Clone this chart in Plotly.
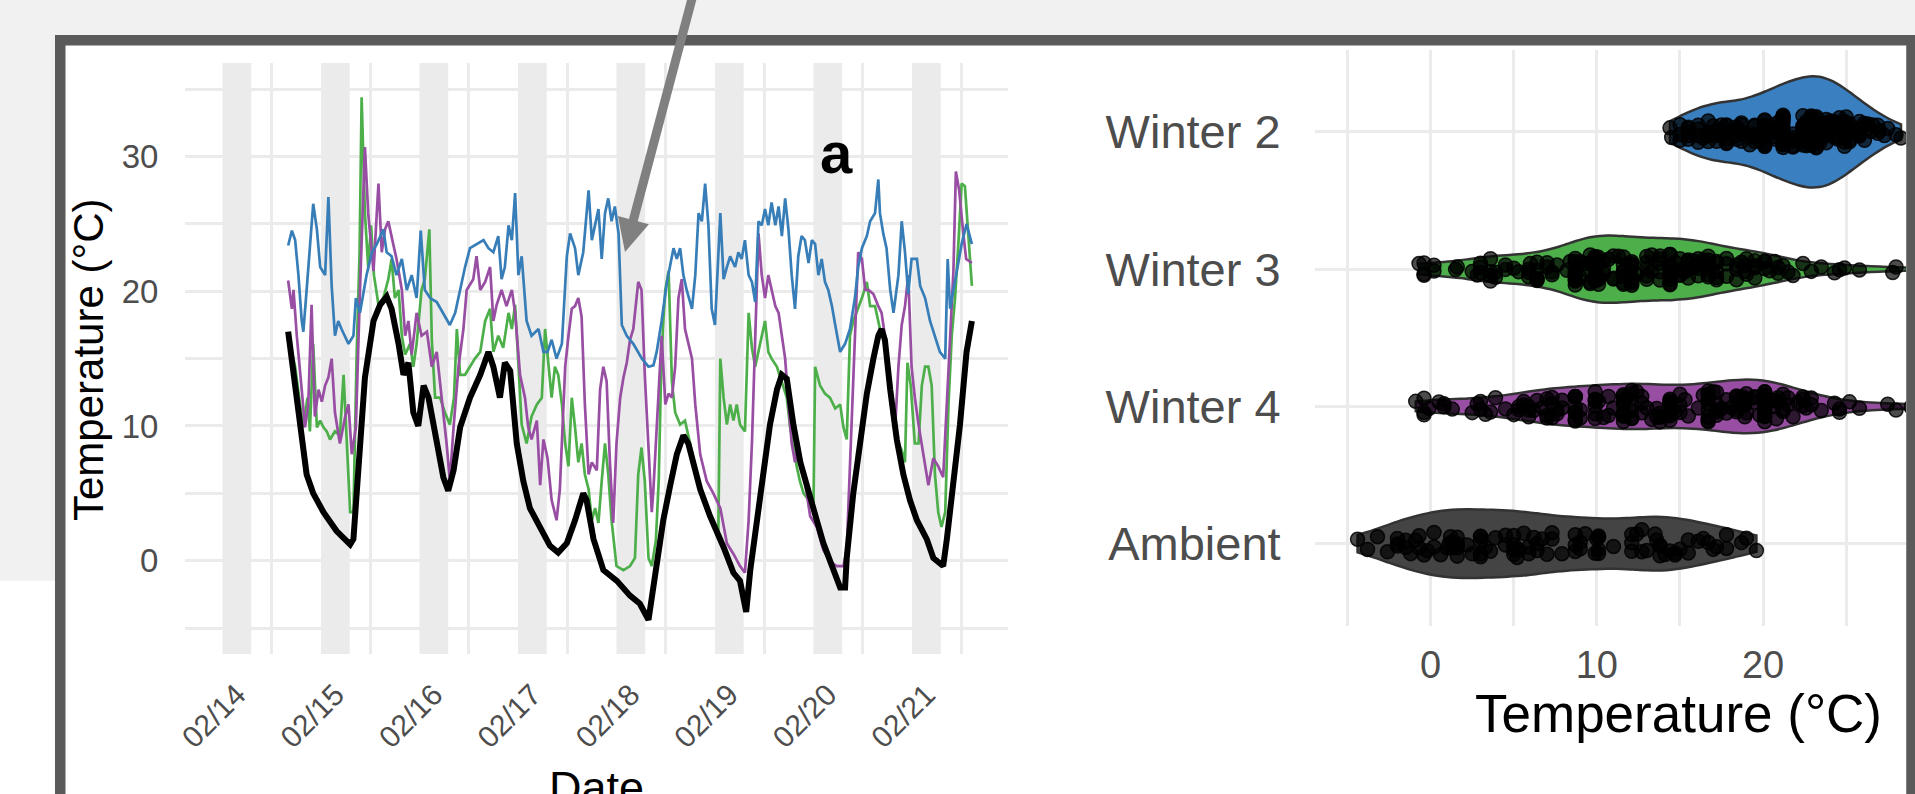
import pandas as pd
import plotly.graph_objects as go

# ---------------- data (hours after 2021-02-14 00:00, temperature in deg C) ----------------
BASE = "2021-02-14"

amb_h = [16.0, 18.9, 20.5, 22.1, 24.6, 27.8, 31.1, 31.9, 33.1, 34.7, 36.8, 38.4, 40.0, 41.2, 42.9, 44.1,
         45.3, 46.5, 47.7, 49.0, 50.2, 52.2, 53.8, 55.0, 56.3, 57.9, 60.3, 62.8, 64.8, 66.0, 67.6, 68.8,
         70.1, 71.7, 73.3, 74.9, 77.4, 79.8, 81.8, 83.9, 85.9, 87.9, 88.7, 90.4, 92.8, 96.1, 99.3, 101.7,
         103.8, 105.0, 107.4, 109.1, 110.7, 112.3, 113.5, 116.4, 118.8, 122.1, 124.5, 126.1, 127.6, 128.6,
         130.2, 131.8, 133.4, 135.1, 136.3, 137.5, 139.1, 140.8, 142.8, 144.8, 146.4, 148.1, 149.3, 150.5,
         151.7, 152.1, 153.7, 155.3, 157.0, 158.6, 159.8, 160.6, 161.4, 162.7, 164.3, 165.9, 167.5, 169.2,
         171.6, 173.2, 175.6, 176.5, 178.1, 179.7, 181.3, 182.6]
amb_t = [17.0, 10.1, 6.4, 5.0, 3.6, 2.2, 1.2, 1.6, 7.3, 13.6, 17.8, 19.0, 19.6, 18.7, 16.1, 13.8,
         14.7, 11.0, 10.0, 13.0, 12.1, 9.0, 6.2, 5.2, 6.7, 9.9, 12.1, 13.8, 15.5, 14.4, 12.1, 14.7,
         14.1, 8.7, 5.9, 3.9, 2.5, 1.1, 0.6, 1.3, 3.0, 5.0, 4.5, 1.6, -0.7, -1.5, -2.6, -3.2,
         -4.4, -2.0, 3.0, 5.6, 7.9, 9.3, 8.7, 5.3, 3.3, 1.0, -0.9, -1.5, -3.8, -0.7,
         3.0, 7.0, 10.1, 12.7, 13.8, 13.5, 10.1, 7.3, 5.0, 3.0, 1.3, -0.2, -1.2, -2.0,
         -2.0, 0.2, 5.0, 8.7, 12.4, 15.0, 16.7, 17.2, 16.4, 12.7, 9.0, 6.4, 4.5, 3.0,
         1.6, 0.2, -0.4, 1.6, 5.9, 10.1, 15.5, 17.8]

w2_h = [16.0, 16.9, 17.7, 18.5, 19.3, 19.7, 20.5, 21.3, 22.1, 23.0, 23.8, 25.0, 25.8, 26.6, 27.4, 28.2,
        29.0, 30.7, 31.9, 32.5, 33.5, 35.1, 36.4, 37.6, 39.2, 40.0, 41.2, 42.4, 43.7, 44.9, 46.1, 47.3,
        48.3, 49.3, 50.6, 52.2, 53.8, 55.4, 56.7, 57.9, 59.1, 60.3, 61.9, 63.6, 64.8, 66.0, 67.2, 68.0,
        68.8, 69.7, 70.5, 71.3, 72.1, 72.9, 74.1, 75.3, 77.0, 78.2, 79.2, 80.2, 81.4, 82.7, 83.9, 84.7,
        85.9, 86.7, 87.9, 89.2, 90.0, 90.8, 91.6, 92.4, 93.2, 94.0, 94.8, 95.6, 96.5, 97.3, 98.5, 100.1,
        102.2, 103.8, 105.0, 105.8, 107.0, 108.3, 109.9, 110.7, 111.5, 112.3, 113.1, 114.4, 115.2, 116.0,
        116.8, 117.6, 118.4, 119.2, 120.0, 121.3, 122.1, 122.9, 123.7, 124.9, 125.7, 126.5, 127.3, 128.2,
        129.0, 129.8, 130.6, 131.4, 132.2, 133.0, 133.8, 134.7, 135.5, 136.3, 137.1, 137.9, 138.7, 139.5,
        140.3, 141.1, 141.9, 142.8, 143.6, 144.4, 145.2, 146.0, 146.8, 147.6, 148.5, 149.3, 150.5, 151.7,
        152.9, 154.1, 154.9, 155.8, 157.0, 157.8, 159.0, 159.8, 160.2, 161.0, 161.8, 162.7, 163.5, 164.7,
        165.5, 166.3, 167.1, 167.9, 169.2, 170.0, 171.2, 172.4, 173.6, 174.8, 176.1, 176.7, 177.3, 178.1,
        178.9, 180.1, 181.3, 182.6]
w2_t = [23.4, 24.5, 23.8, 21.2, 17.8, 17.0, 20.1, 23.5, 26.5, 24.6, 21.8, 21.2, 27.0, 20.4, 16.7, 17.8,
        17.2, 16.1, 16.7, 19.5, 18.4, 21.2, 22.9, 23.5, 24.6, 22.9, 22.6, 21.2, 22.4, 20.1, 21.2, 19.5,
        24.5, 20.1, 19.5, 19.2, 18.4, 17.5, 18.4, 20.1, 21.8, 23.2, 23.5, 23.8, 23.2, 22.9, 24.1, 20.9,
        21.8, 24.9, 23.8, 27.3, 21.2, 22.6, 17.8, 16.7, 17.2, 15.5, 15.5, 16.4, 15.0, 16.1, 22.6, 24.3,
        23.2, 21.2, 22.9, 27.5, 23.8, 24.9, 26.1, 22.4, 25.8, 26.9, 25.2, 26.3, 24.3, 17.5, 16.7, 16.1,
        15.0, 14.4, 14.5, 15.5, 17.8, 20.7, 23.2, 22.4, 23.2, 21.2, 20.1, 18.7, 21.2, 25.8,
        25.2, 28.0, 24.9, 18.7, 17.5, 25.8, 20.9, 21.8, 22.6, 21.8, 22.9, 22.4, 23.8, 21.2,
        20.7, 19.2, 25.2, 24.9, 26.1, 24.9, 26.6, 24.9, 26.3, 24.1, 26.9, 24.6, 21.2, 18.7,
        22.6, 24.1, 23.8, 22.1, 23.8, 23.5, 21.2, 22.4, 20.7, 20.1, 18.9, 17.5, 15.5, 16.1,
        17.2, 19.5, 21.8, 23.2, 24.1, 25.2, 25.8, 28.3, 25.8, 24.3, 23.2, 20.1, 18.4, 21.2,
        25.2, 22.9, 19.8, 22.4, 22.4, 20.4, 19.5, 17.8, 16.7, 15.5, 15.0, 22.4, 18.7, 20.1,
        21.2, 23.5, 25.0, 23.5]

w3_h = [16.0, 17.7, 18.9, 19.7, 20.7, 21.3, 22.1, 23.0, 23.8, 24.6, 25.4, 26.2, 27.4, 28.6, 29.5, 30.4,
        31.1, 31.9, 32.7, 33.4, 33.9, 34.7, 35.5, 36.2, 36.9, 38.0, 39.2, 40.4, 41.2, 42.0, 42.9, 43.7,
        44.5, 45.7, 46.5, 47.3, 48.5, 49.3, 50.4, 51.0, 51.8, 53.0, 54.2, 55.4, 56.4, 57.1, 57.9, 59.1,
        60.3, 61.5, 62.8, 64.0, 65.2, 66.0, 67.2, 68.4, 69.7, 70.5, 71.3, 72.1, 72.9, 74.1, 75.3, 76.6,
        77.8, 78.6, 79.4, 80.2, 81.0, 81.8, 82.7, 83.5, 84.3, 85.1, 85.9, 86.7, 87.5, 88.3, 89.2, 90.0,
        90.8, 91.6, 92.4, 93.2, 94.0, 94.8, 96.0, 97.7, 99.3, 100.5, 101.3, 102.1, 102.9, 103.8, 104.6,
        105.6, 106.3, 106.8, 107.3, 107.9, 108.7, 109.5, 110.3, 111.5, 112.7, 113.9, 115.6, 117.2, 119.2,
        120.8, 121.3, 122.1, 122.9, 123.7, 124.5, 125.3, 126.1, 127.3, 128.2, 129.0, 129.8, 131.0, 132.2,
        133.0, 133.8, 135.1, 136.3, 137.5, 138.3, 139.1, 139.9, 140.7, 141.6, 142.8, 144.0, 144.4, 145.6,
        146.8, 148.0, 149.3, 150.5, 151.3, 152.1, 152.9, 153.7, 154.5, 155.8, 157.0, 157.8, 159.0, 160.2,
        161.4, 162.2, 163.1, 163.9, 164.7, 165.5, 166.3, 166.9, 167.7, 168.7, 169.6, 170.4, 171.2, 172.0,
        172.8, 173.6, 174.4, 175.2, 176.1, 176.9, 177.7, 178.5, 179.3, 180.1, 180.9, 181.7, 182.6]
w3_t = [16.7, 14.4, 11.6, 9.9, 12.1, 9.6, 16.1, 9.9, 10.4, 9.9, 9.6, 9.0, 9.6, 9.3, 13.8, 7.6,
        3.6, 3.6, 15.5, 22.9, 34.4, 25.8, 21.8, 24.9, 21.2, 19.0, 19.5, 20.9, 22.4, 19.5, 20.1, 16.7,
        15.3, 16.1, 14.4, 16.1, 20.1, 20.9, 24.6, 16.4, 12.1, 12.1, 11.0, 10.1, 12.1, 17.2, 13.8, 13.8,
        14.4, 15.0, 15.5, 17.8, 18.7, 15.5, 16.7, 15.8, 18.4, 17.2, 19.0, 15.0, 10.1, 8.7, 10.7, 11.6,
        12.1, 17.2, 14.4, 12.1, 14.4, 13.8, 11.6, 8.7, 7.0, 12.1, 9.9, 7.3, 8.7, 6.4, 5.3, 3.0,
        3.9, 2.8, 5.9, 8.7, 6.4, 3.0, -0.4, -0.7, -0.4, 0.2, 6.4, 8.4, 5.9, 0.2, -0.4,
        1.5, 6.0, 13.0, 17.2, 20.1, 21.5, 13.3, 11.0, 10.1, 10.4, 8.7, 6.4, 4.5, 3.0,
        1.6, 15.0, 12.1, 10.1, 11.6, 10.4, 11.6, 10.1, 9.6, 18.4, 15.8, 14.4, 16.1, 17.8,
        15.5, 15.0, 14.4, 13.3, 12.1, 9.9, 8.7, 7.0, 5.9, 5.0, 4.5, 3.9, 14.4, 13.0,
        12.4, 12.1, 11.3, 11.6, 9.9, 9.0, 16.7, 17.8, 18.4, 19.5, 20.7, 18.9, 18.9, 17.2,
        16.7, 13.8, 11.0, 9.3, 8.7, 8.2, 7.3, 14.7, 13.0, 8.7, 8.7, 13.0, 14.4, 14.4,
        13.0, 6.4, 3.6, 2.5, 3.6, 11.6, 16.7, 19.5, 23.5, 28.0, 27.8, 24.3, 20.4]

w4_h = [16.0, 16.9, 17.3, 18.1, 19.3, 20.1, 20.9, 21.7, 22.5, 23.4, 24.2, 25.0, 25.8, 26.6, 27.4, 28.6,
        29.9, 30.7, 31.5, 32.5, 33.5, 34.7, 35.5, 36.8, 38.0, 38.8, 39.6, 40.4, 41.6, 42.4, 43.7, 44.5,
        45.3, 46.1, 47.3, 48.5, 49.8, 51.0, 52.2, 53.4, 54.6, 55.4, 56.3, 57.5, 58.7, 59.5, 61.1, 61.9,
        62.8, 64.0, 65.2, 66.0, 66.8, 68.0, 69.2, 70.5, 71.3, 72.5, 73.7, 74.5, 75.3, 76.6, 77.4, 78.2,
        79.2, 80.2, 81.4, 82.2, 83.5, 84.3, 85.1, 85.9, 86.7, 87.5, 88.3, 89.2, 90.0, 91.2, 92.0, 92.8,
        93.6, 94.4, 95.2, 96.0, 96.9, 97.7, 98.5, 99.3, 100.1, 101.3, 102.1, 102.9, 103.8, 104.6, 105.0,
        106.2, 107.0, 107.9, 108.7, 109.5, 110.3, 111.1, 111.9, 112.7, 113.5, 114.4, 115.2, 116.4, 118.0,
        119.6, 121.3, 122.9, 124.5, 126.1, 127.3, 128.2, 129.0, 129.8, 130.6, 131.4, 132.2, 133.0, 133.8,
        134.7, 135.5, 136.3, 137.1, 137.9, 138.7, 139.5, 140.3, 141.1, 141.9, 143.2, 144.8, 146.4, 148.1,
        149.7, 151.3, 152.1, 153.3, 154.1, 154.9, 155.8, 156.6, 157.4, 158.6, 159.8, 160.6, 161.4, 162.2,
        163.1, 163.9, 164.7, 165.5, 166.3, 167.1, 167.9, 168.7, 169.6, 170.4, 171.2, 172.0, 173.2, 174.4,
        175.6, 176.5, 177.3, 178.1, 178.7, 179.5, 180.4, 181.2, 182.6]
w4_t = [20.8, 18.7, 20.1, 16.7, 12.7, 9.9, 11.6, 19.0, 10.7, 12.7, 11.8, 13.0, 13.6, 15.0, 11.0, 8.7,
        10.7, 11.6, 7.9, 9.9, 20.1, 30.7, 25.8, 21.5, 28.0, 22.9, 24.6, 25.2, 23.5, 22.4, 20.1, 16.7,
        17.8, 15.3, 18.4, 16.7, 17.0, 14.4, 15.5, 12.1, 8.7, 5.9, 9.9, 14.4, 17.2, 20.1, 20.9, 22.6,
        20.1, 20.7, 21.8, 17.8, 19.0, 20.1, 18.9, 20.1, 18.4, 13.8, 12.1, 9.9, 9.0, 10.4, 5.6, 9.0,
        7.6, 4.5, 3.0, 5.3, 14.4, 16.7, 18.7, 18.9, 19.5, 18.1, 11.6, 6.4, 7.3, 6.7, 12.7, 14.4,
        13.3, 7.3, 2.8, 8.7, 12.1, 13.6, 14.7, 16.4, 17.2, 20.7, 20.1, 13.8, 8.7, 3.6, 5.3,
        12.1, 16.7, 11.6, 12.4, 12.1, 14.4, 19.5, 20.9, 17.2, 16.1, 15.0, 11.6, 7.9, 5.9,
        5.0, 3.9, 1.3, 0.5, -0.4, -0.9, 3.0, 8.7, 17.2, 24.3, 21.2, 19.5, 21.2, 20.1,
        18.9, 18.4, 16.7, 15.0, 11.6, 8.7, 7.3, 8.7, 7.0, 5.9, 3.3, 2.5, 0.8, -0.1,
        -0.4, -0.4, 0.8, 9.9, 16.7, 22.9, 22.4, 20.1, 20.1, 19.8, 18.9, 18.4, 16.7, 13.8,
        11.6, 9.9, 14.4, 17.5, 18.9, 21.2, 14.4, 12.1, 10.1, 8.7, 7.0, 5.6, 7.6, 7.0,
        6.2, 11.6, 17.2, 21.5, 28.9, 27.5, 24.6, 22.4, 22.1]

day_labels = ["02/14", "02/15", "02/16", "02/17", "02/18", "02/19", "02/20", "02/21"]
night_length_h = 7
categories = ["Ambient", "Winter 4", "Winter 3", "Winter 2"]   # bottom to top

# ---------------- helpers ----------------
W, H = 1915, 794
FONT = "Liberation Sans, Arial, Helvetica, sans-serif"
GRID = "#ebebeb"
TICKC = "#4d4d4d"


def px(x):
    return x / W


def py(y):
    return 1 - y / H


base = pd.Timestamp(BASE)


def to_time(hours):
    return base + pd.to_timedelta(pd.Series(hours, dtype=float), unit="h")


midnights = [base + pd.Timedelta(days=i) for i in range(len(day_labels))]
label_pos = [m + pd.Timedelta(hours=3.5) for m in midnights]
noons = [m + pd.Timedelta(hours=12) for m in midnights]

fig = go.Figure()

# ---------------- left panel: time series ----------------
series = [
    ("Winter 3", w3_h, w3_t, "#4DAF4A", 2.7),
    ("Winter 4", w4_h, w4_t, "#984EA3", 2.7),
    ("Winter 2", w2_h, w2_t, "#377EB8", 2.7),
    ("Ambient", amb_h, amb_t, "#000000", 6),
]
for name, hh, tt, col, lw in series:
    fig.add_trace(go.Scatter(x=to_time(hh), y=tt, mode="lines", name=name,
                             line=dict(color=col, width=lw), hoverinfo="skip",
                             xaxis="x", yaxis="y"))

# ---------------- right panel: violins ----------------
# name, values, fill, width (category units), jitter, kde bandwidth
violins = [
    ("Ambient", amb_t, "#444444", 0.50, 0.45, 1.8),
    ("Winter 4", w4_t, "#984EA3", 0.39, 0.60, 1.8),
    ("Winter 3", w3_t, "#4DAF4A", 0.49, 0.48, 1.5),
    ("Winter 2", w2_t, "#3A7FC0", 0.81, 0.30, 1.25),
]
for name, vals, col, wdt, jit, bw in violins:
    fig.add_trace(go.Violin(
        x=vals, y=[name] * len(vals), orientation="h", name=name,
        xaxis="x2", yaxis="y2", width=wdt, scalemode="width", spanmode="hard",
        bandwidth=bw, fillcolor=col, line=dict(color="#333333", width=2.5),
        points="all", pointpos=0, jitter=jit,
        marker=dict(size=14, color="rgba(0,0,0,0.7)",
                    line=dict(color="rgba(0,0,0,0.85)", width=1.5)),
        box_visible=False, meanline_visible=False, hoverinfo="skip",
    ))

# ---------------- shapes ----------------
shapes = []
# white page areas
shapes.append(dict(type="rect", xref="paper", yref="paper", x0=px(-5), x1=px(57),
                   y0=py(580.7), y1=py(820), fillcolor="white", line=dict(width=0), layer="below"))
shapes.append(dict(type="rect", xref="paper", yref="paper", x0=px(58), x1=px(1930),
                   y0=py(38), y1=py(820), fillcolor="white", line=dict(width=0), layer="below"))
# night bands
for m in midnights:
    shapes.append(dict(type="rect", xref="x", yref="paper", x0=m,
                       x1=m + pd.Timedelta(hours=night_length_h), y0=py(654), y1=py(63),
                       fillcolor="#ebebeb", line=dict(width=0), layer="below"))
# frame
shapes.append(dict(type="rect", xref="paper", yref="paper", x0=px(60.25), x1=px(1911.5),
                   y0=py(40.25), y1=py(830), line=dict(color="#5a5a5a", width=10.5),
                   fillcolor="rgba(0,0,0,0)", layer="above"))
# pointer arrow
shapes.append(dict(type="line", xref="paper", yref="paper", x0=px(694.3), y0=py(-10),
                   x1=px(631.0), y1=py(229.0), line=dict(color="#808080", width=9), layer="above"))
tip = (625.0, 252.0)
c1 = (648.9, 224.2)
c2 = (617.9, 216.0)
shapes.append(dict(type="path", xref="paper", yref="paper",
                   path=f"M {px(tip[0])},{py(tip[1])} L {px(c1[0])},{py(c1[1])} L {px(c2[0])},{py(c2[1])} Z",
                   fillcolor="#808080", line=dict(width=0), layer="above"))

# ---------------- annotations ----------------
annotations = [
    dict(text="<b>a</b>", x=px(836), y=py(152), xref="paper", yref="paper", showarrow=False,
         font=dict(family=FONT, size=58, color="black"), xanchor="center", yanchor="middle"),
    dict(text="Temperature (°C)", x=px(88), y=py(360), xref="paper", yref="paper", showarrow=False,
         textangle=-90, font=dict(family=FONT, size=42, color="black"),
         xanchor="center", yanchor="middle"),
    dict(text="Date", x=px(596), y=py(787), xref="paper", yref="paper", showarrow=False,
         font=dict(family=FONT, size=45, color="black"), xanchor="center", yanchor="middle"),
    dict(text="Temperature (°C)", x=px(1678), y=py(713), xref="paper", yref="paper", showarrow=False,
         font=dict(family=FONT, size=53, color="black"), xanchor="center", yanchor="middle"),
]

t_left = base + pd.Timedelta(hours=-9.14)
t_right = base + pd.Timedelta(hours=191.4)

common_axis = dict(automargin=False, zeroline=False, showline=False, showgrid=True,
                   gridcolor=GRID, gridwidth=2.5, tickcolor="rgba(0,0,0,0)", ticks="outside")

fig.update_layout(
    width=W, height=H, autosize=False, margin=dict(l=0, r=0, t=0, b=0, pad=0, autoexpand=False),
    paper_bgcolor="#f1f1f1", plot_bgcolor="rgba(0,0,0,0)",
    showlegend=False, violinmode="overlay", font=dict(family=FONT),
    shapes=shapes, annotations=annotations,
    xaxis=dict(common_axis, domain=[px(185), px(1008)], anchor="y", type="date",
               range=[t_left, t_right], showgrid=False,
               tickmode="array", tickvals=label_pos, ticktext=day_labels, tickangle=-45,
               tickfont=dict(family=FONT, size=30, color=TICKC), ticklen=10,
               minor=dict(tickmode="array", tickvals=noons, showgrid=True, gridcolor=GRID,
                          gridwidth=2.5, ticks="")),
    yaxis=dict(common_axis, domain=[py(654), py(63)], anchor="x", range=[-6.93, 36.95],
               tickmode="array", tickvals=[0, 10, 20, 30],
               tickfont=dict(family=FONT, size=33, color=TICKC), ticklen=19,
               minor=dict(tickmode="array", tickvals=[-5, 5, 15, 25, 35], showgrid=True,
                          gridcolor=GRID, gridwidth=2.5, ticks="")),
    xaxis2=dict(common_axis, domain=[px(1315), px(1906)], anchor="y2", range=[-6.96, 28.6],
                tickmode="array", tickvals=[0, 10, 20, 30],
                tickfont=dict(family=FONT, size=38, color=TICKC), ticklen=5,
                minor=dict(tickmode="array", tickvals=[-5, 5, 15, 25], showgrid=True,
                           gridcolor=GRID, gridwidth=2.5, ticks="")),
    yaxis2=dict(common_axis, domain=[py(626), py(49.6)], anchor="x2", type="category",
                categoryorder="array", categoryarray=categories, range=[-0.6, 3.6],
                tickfont=dict(family=FONT, size=47, color=TICKC), ticklen=24),
)

fig.write_html("out.html", config={"displayModeBar": False})
